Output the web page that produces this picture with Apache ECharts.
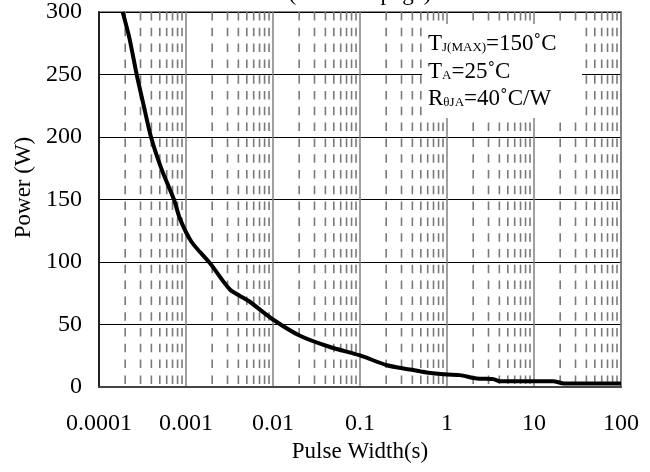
<!DOCTYPE html>
<html><head><meta charset="utf-8">
<script src="https://cdn.jsdelivr.net/npm/echarts@6/dist/echarts.min.js"></script>
<style>html,body{margin:0;padding:0;background:#fff}#c{width:650px;height:472px}</style>
</head><body><div id="c"></div>
<script>
// Pulse width (s) and single-pulse power (W)
const pulseWidth = [0.000187, 0.000223, 0.000271, 0.000323, 0.000396, 0.000526, 0.000727, 0.000853,
  0.00116, 0.00189, 0.0032, 0.0052, 0.01, 0.0204, 0.0452, 0.1, 0.204, 0.376, 0.583, 1.0, 1.41,
  2.19, 3.39, 4.07, 16.6, 21.9, 100];
const power = [300, 279.5, 250, 226.6, 200, 173.9, 150, 134.5,
  116, 99, 78, 69, 54, 41, 32, 25.3, 17.4, 14, 11.6, 10, 9.5,
  6.8, 6.3, 4.7, 4.7, 2.9, 2.9];
const xTickLabels = ['0.0001', '0.001', '0.01', '0.1', '1', '10', '100'];
const yTickLabels = ['0', '50', '100', '150', '200', '250', '300'];
const decadeStarts = [0.0001, 0.001, 0.01, 0.1, 1, 10];
const minorMultipliers = [2, 3, 4, 5, 6, 7, 8, 9];
const yRange = [0, 300];
const titleText = '(See next page)';
const noteLines = [
  ['T', 'J(MAX)', '=150˚C'],
  ['T', 'A', '=25˚C'],
  ['R', 'θJA', '=40˚C/W']
];

const F = 'Liberation Serif';
const minorXs = [];
decadeStarts.forEach(d => minorMultipliers.forEach(m => minorXs.push(+(d * m).toPrecision(6))));

const chart = echarts.init(document.getElementById('c'), null, {renderer: 'canvas'});
const richStyle = {
  a: {fontSize: 23, fontFamily: F, fill: '#000', verticalAlign: 'bottom'},
  s: {fontSize: 13, fontFamily: F, fill: '#000', verticalAlign: 'bottom', padding: [0, 0, 1, 0]}
};
const noteTexts = noteLines.map((ln, i) => ({
  type: 'text', x: 428, y: 44 + i * 27.5, z: 101, zlevel: 0,
  style: {text: '{a|' + ln[0] + '}{s|' + ln[1] + '}{a|' + ln[2] + '}', rich: richStyle, verticalAlign: 'middle', align: 'left'}
}));

const minorSeries = minorXs.map(x => ({
  type: 'line', z: 1, silent: true, symbol: 'none', showSymbol: false,
  lineStyle: {type: [8.5, 7.3], color: '#7a7a7a', width: 1.6},
  data: [[x, yRange[1]], [x, yRange[0]]]
}));

chart.setOption({
  animation: false,
  grid: {left: 99, right: 29, top: 7, bottom: 85, show: true, borderColor: '#888', borderWidth: 2, backgroundColor: 'transparent'},
  xAxis: {
    type: 'log', logBase: 10, min: 0.0001, max: 100,
    name: 'Pulse Width(s)', nameLocation: 'middle', nameGap: 53,
    nameTextStyle: {fontFamily: F, fontSize: 23, color: '#000'},
    axisLine: {lineStyle: {color: '#444', width: 2}},
    axisTick: {show: false},
    axisLabel: {
      margin: 25, fontFamily: F, fontSize: 24, color: '#000',
      formatter: v => xTickLabels[Math.round(Math.log10(v)) + 4]
    },
    splitLine: {show: true, lineStyle: {color: '#808080', width: 1.5}},
    minorTick: {show: false}, minorSplitLine: {show: false}
  },
  yAxis: {
    type: 'value', min: yRange[0], max: yRange[1], interval: 50,
    name: 'Power (W)', nameLocation: 'middle', nameGap: 63,
    nameTextStyle: {fontFamily: F, fontSize: 23, color: '#000', padding: [0, 0, 0, 24]},
    axisLine: {show: true, lineStyle: {color: '#000', width: 1.5}},
    axisTick: {show: false},
    axisLabel: {margin: 17, fontFamily: F, fontSize: 24, color: '#000',
      formatter: v => yTickLabels[Math.round(v / 50)]},
    splitLine: {show: true, lineStyle: {color: '#000', width: 1.2}}
  },
  series: minorSeries.concat([
    {
      type: 'line', z: 5, showSymbol: false, symbol: 'none', smooth: 0.25,
      lineStyle: {color: '#000', width: 4},
      data: pulseWidth.map((x, i) => [x, power[i]])
    }
  ]),
  graphic: [
    {type: 'rect', z: 100, zlevel: 0, shape: {x: 422, y: 24, width: 160, height: 94}, style: {fill: '#fff'}}
  ].concat(noteTexts).concat([
    {type: 'text', z: 100, x: 360, y: 5,
      style: {text: titleText, fontFamily: F, fontSize: 23, fill: '#000', align: 'center', verticalAlign: 'bottom'}}
  ])
});
</script>
</body></html>
